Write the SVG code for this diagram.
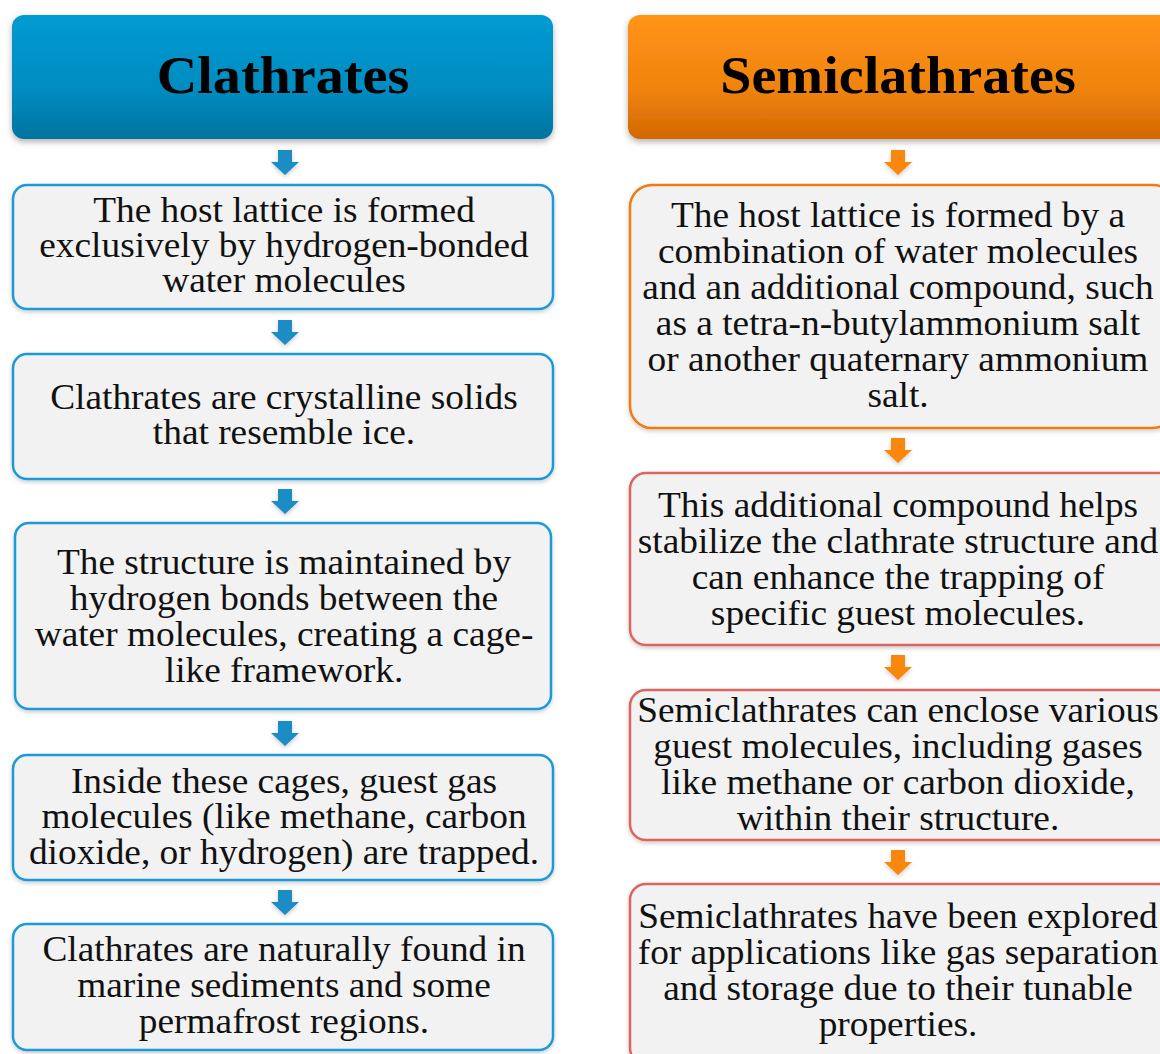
<svg xmlns="http://www.w3.org/2000/svg" width="1160" height="1054" viewBox="0 0 1160 1054">
<defs>
<linearGradient id="gBlue" x1="0" y1="0" x2="0" y2="1"><stop offset="0" stop-color="#009bd3"/><stop offset="0.6" stop-color="#008cc0"/><stop offset="1" stop-color="#0073a0"/></linearGradient>
<linearGradient id="gOrange" x1="0" y1="0" x2="0" y2="1"><stop offset="0" stop-color="#ff9414"/><stop offset="0.6" stop-color="#f08310"/><stop offset="1" stop-color="#d26800"/></linearGradient>
<filter id="sh" x="-5%" y="-10%" width="110%" height="125%"><feDropShadow dx="0" dy="3" stdDeviation="3" flood-color="#000" flood-opacity="0.3"/></filter>
<filter id="sh2" x="-5%" y="-10%" width="110%" height="125%"><feDropShadow dx="0" dy="2" stdDeviation="2" flood-color="#000" flood-opacity="0.2"/></filter>
<path id="arr" d="M-7,0 H7 V12 H14 L0,25 L-14,12 H-7 Z"/>
</defs>
<style>
.t{font-family:"Liberation Serif","Times New Roman",serif;font-size:35px;fill:#111;text-anchor:middle}
.h{font-family:"Liberation Serif","Times New Roman",serif;font-size:53px;font-weight:bold;fill:#000;text-anchor:middle}
.bb{fill:#f2f2f2;stroke:#1e9ad8;stroke-width:2.5}
.ob{fill:#f2f2f2;stroke:#f07a14;stroke-width:2.5}
.rb{fill:#f2f2f2;stroke:#d9665e;stroke-width:2.5}
.ab{fill:#1a8dc4}
.ao{fill:#f7870f}
</style>
<rect width="1160" height="1054" fill="#fff"/>
<g id="connectors">
<use href="#arr" class="ab" x="285" y="150" filter="url(#sh2)"/>
<use href="#arr" class="ab" x="285" y="320" filter="url(#sh2)"/>
<use href="#arr" class="ab" x="285" y="489" filter="url(#sh2)"/>
<use href="#arr" class="ab" x="285" y="721" filter="url(#sh2)"/>
<use href="#arr" class="ab" x="285" y="890" filter="url(#sh2)"/>
<use href="#arr" class="ao" x="898" y="150" filter="url(#sh2)"/>
<use href="#arr" class="ao" x="898" y="438" filter="url(#sh2)"/>
<use href="#arr" class="ao" x="898" y="655" filter="url(#sh2)"/>
<use href="#arr" class="ao" x="898" y="850" filter="url(#sh2)"/>
</g>
<g id="clathrates-header">
<rect x="12" y="15" width="541" height="124" rx="12" fill="url(#gBlue)" filter="url(#sh)"/>
<text class="h" transform="translate(283,93) scale(1.06,1)">Clathrates</text>
</g>
<g id="c1">
<rect class="bb" x="13" y="185" width="540" height="124" rx="14" filter="url(#sh2)"/>
<g transform="translate(284,0) scale(1.067,1)">
<text class="t" x="0" y="222">The host lattice is formed</text>
<text class="t" x="0" y="257">exclusively by hydrogen-bonded</text>
<text class="t" x="0" y="292">water molecules</text>
</g>
</g>
<g id="c2">
<rect class="bb" x="13" y="354" width="540" height="125" rx="14" filter="url(#sh2)"/>
<g transform="translate(284,0) scale(1.067,1)">
<text class="t" x="0" y="409">Clathrates are crystalline solids</text>
<text class="t" x="0" y="444">that resemble ice.</text>
</g>
</g>
<g id="c3">
<rect class="bb" x="15" y="523" width="536" height="186" rx="14" filter="url(#sh2)"/>
<g transform="translate(284,0) scale(1.067,1)">
<text class="t" x="0" y="574">The structure is maintained by</text>
<text class="t" x="0" y="610">hydrogen bonds between the</text>
<text class="t" x="0" y="646">water molecules, creating a cage-</text>
<text class="t" x="0" y="682">like framework.</text>
</g>
</g>
<g id="c4">
<rect class="bb" x="13" y="755" width="540" height="125" rx="14" filter="url(#sh2)"/>
<g transform="translate(284,0) scale(1.067,1)">
<text class="t" x="0" y="793">Inside these cages, guest gas</text>
<text class="t" x="0" y="828">molecules (like methane, carbon</text>
<text class="t" x="0" y="864">dioxide, or hydrogen) are trapped.</text>
</g>
</g>
<g id="c5">
<rect class="bb" x="13" y="924" width="540" height="126" rx="14" filter="url(#sh2)"/>
<g transform="translate(284,0) scale(1.067,1)">
<text class="t" x="0" y="961">Clathrates are naturally found in</text>
<text class="t" x="0" y="997">marine sediments and some</text>
<text class="t" x="0" y="1033">permafrost regions.</text>
</g>
</g>
<g id="semiclathrates-header">
<rect x="628" y="15" width="545" height="124" rx="12" fill="url(#gOrange)" filter="url(#sh)"/>
<text class="h" transform="translate(898,93) scale(1.06,1)">Semiclathrates</text>
</g>
<g id="s1">
<rect class="ob" x="630" y="185" width="545" height="243" rx="22" filter="url(#sh2)"/>
<g transform="translate(898,0) scale(1.067,1)">
<text class="t" x="0" y="227">The host lattice is formed by a</text>
<text class="t" x="0" y="263">combination of water molecules</text>
<text class="t" x="0" y="299">and an additional compound, such</text>
<text class="t" x="0" y="335">as a tetra-n-butylammonium salt</text>
<text class="t" x="0" y="371">or another quaternary ammonium</text>
<text class="t" x="0" y="407">salt.</text>
</g>
</g>
<g id="s2">
<rect class="rb" x="630" y="473" width="545" height="172" rx="16" filter="url(#sh2)"/>
<g transform="translate(898,0) scale(1.067,1)">
<text class="t" x="0" y="517">This additional compound helps</text>
<text class="t" x="0" y="553">stabilize the clathrate structure and</text>
<text class="t" x="0" y="589">can enhance the trapping of</text>
<text class="t" x="0" y="625">specific guest molecules.</text>
</g>
</g>
<g id="s3">
<rect class="rb" x="630" y="690" width="545" height="150" rx="16" filter="url(#sh2)"/>
<g transform="translate(898,0) scale(1.067,1)">
<text class="t" x="0" y="722">Semiclathrates can enclose various</text>
<text class="t" x="0" y="758">guest molecules, including gases</text>
<text class="t" x="0" y="794">like methane or carbon dioxide,</text>
<text class="t" x="0" y="830">within their structure.</text>
</g>
</g>
<g id="s4">
<rect class="rb" x="630" y="884" width="545" height="180" rx="16" filter="url(#sh2)"/>
<g transform="translate(898,0) scale(1.067,1)">
<text class="t" x="0" y="928">Semiclathrates have been explored</text>
<text class="t" x="0" y="964">for applications like gas separation</text>
<text class="t" x="0" y="1000">and storage due to their tunable</text>
<text class="t" x="0" y="1036">properties.</text>
</g>
</g>
</svg>
